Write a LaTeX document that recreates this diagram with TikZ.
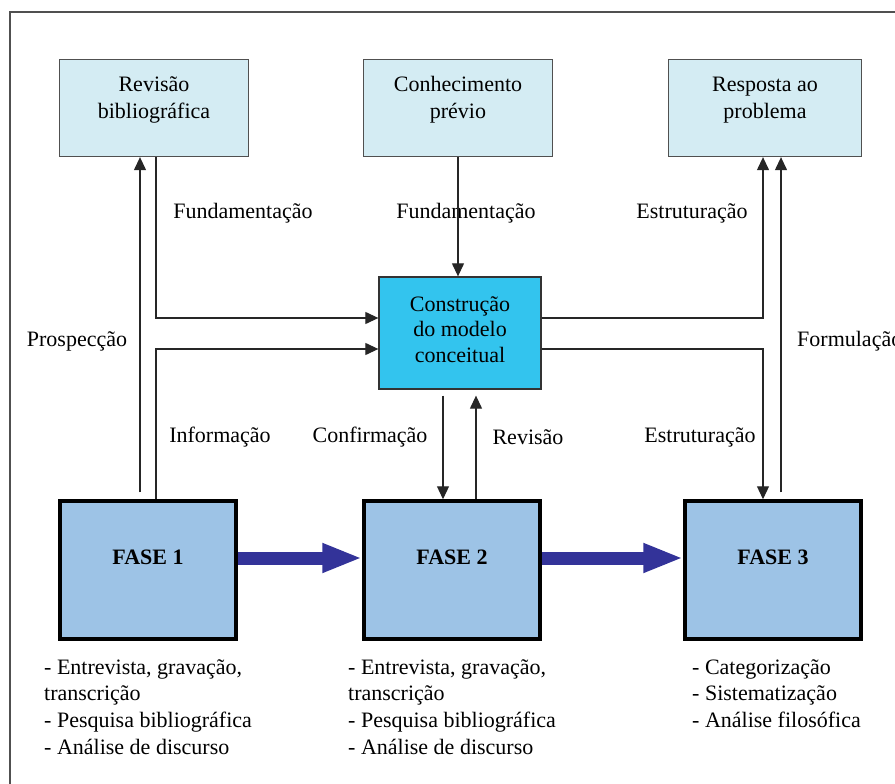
\documentclass[tikz,border=0pt]{standalone}
\usepackage{fontspec}
\setmainfont{Liberation Serif}
\usepackage{xcolor}
\definecolor{paleblue}{RGB}{212,236,243}
\definecolor{cyanbox}{RGB}{51,196,238}
\definecolor{faseblue}{RGB}{157,195,230}
\definecolor{navyarrow}{RGB}{51,51,153}
\definecolor{framegray}{RGB}{80,80,80}
\usepackage{tikz}
\usetikzlibrary{arrows.meta}

\begin{document}
\begin{tikzpicture}[x=1pt, y=-1pt,
  font=\fontsize{22}{27}\selectfont,
  topbox/.style={draw=framegray, line width=1.3pt, fill=paleblue, minimum width=189pt, minimum height=97pt, inner sep=0pt, align=center},
  fasebox/.style={draw=black, line width=3.5pt, fill=faseblue, minimum width=176pt, minimum height=138pt, inner sep=0pt, align=center, font=\fontsize{22}{26}\selectfont\bfseries},
  conn/.style={line width=1.2pt, draw=black!85},
  arr/.style={conn, -{Triangle[length=13pt,width=12pt]}},
  lbl/.style={inner sep=0pt},
  blist/.style={inner sep=0pt, anchor=north west, align=left, font=\fontsize{22}{26.7}\selectfont}]
\useasboundingbox (0,0) rectangle (895,784);

% Frame
\draw[framegray, line width=1.5pt] (10,12) rectangle (910,800);

% Top boxes
\node[topbox] (rev) at (154,108) {Revisão\\bibliográfica\\[-6pt]\mbox{}};
\node[topbox] (con) at (458,108) {Conhecimento\\prévio\\[-6pt]\mbox{}};
\node[topbox, minimum width=193pt] (resp) at (765,108) {Resposta ao\\problema\\[-6pt]\mbox{}};

% Model
\node[draw=black!80, line width=1.3pt, fill=cyanbox, minimum width=162pt, minimum height=112pt, align=center, inner sep=0pt, font=\fontsize{22}{25.5}\selectfont] (cmc) at (460,333) {Construção\\do modelo\\conceitual\\[-18pt]\mbox{}};

% Phases
\node[fasebox] (f1) at (148,570) {FASE 1\\\mbox{}};
\node[fasebox] (f2) at (452,570) {FASE 2\\\mbox{}};
\node[fasebox] (f3) at (773,570) {FASE 3\\\mbox{}};

% Lists
\node[blist] (l1) at (44,659) {- Entrevista, gravação,\\transcrição\\- Pesquisa bibliográfica\\- Análise de discurso};
\node[blist] (l2) at (348,659) {- Entrevista, gravação,\\transcrição\\- Pesquisa bibliográfica\\- Análise de discurso};
\node[blist] (l3) at (692,659) {- Categorização\\- Sistematização\\- Análise filosófica};

% Labels
\node[lbl] (tfund1) at (243,213) {Fundamentação};
\node[lbl] (tfund2) at (466,213) {Fundamentação};
\node[lbl] (testr1) at (692,213) {Estruturação};
\node[lbl] (tprosp) at (77,341) {Prospecção};
\node[lbl, anchor=west] (tform) at (797,341) {Formulação};
\node[lbl] (tinfo) at (220,437) {Informação};
\node[lbl] (tconf) at (370,437) {Confirmação};
\node[lbl] (trevi) at (528,437) {Revisão};
\node[lbl] (testr2) at (700,437) {Estruturação};

% Connections
\draw[arr, shorten <=7pt] ([xshift=-8pt]f1.north) -- ([xshift=-14pt]rev.south);
\draw[arr] ([xshift=2pt]rev.south) |- ([yshift=15pt]cmc.west);
\draw[arr] ([xshift=8pt]f1.north) |- ([yshift=-16pt]cmc.west);
\draw[arr] (con.south) -- (con.south |- cmc.north);
\draw[arr, shorten <=6pt] ([xshift=-17pt]cmc.south) -- ([xshift=-17pt]cmc.south |- f2.north);
\draw[arr, shorten >=6pt] ([xshift=16pt]cmc.south |- f2.north) -- ([xshift=16pt]cmc.south);
\draw[arr] ([yshift=15pt]cmc.east) -| ([xshift=-2pt]resp.south);
\draw[arr] ([yshift=-16pt]cmc.east) -| ([xshift=-10pt]f3.north);
\draw[arr, shorten <=7pt] ([xshift=8pt]f3.north) -- ([xshift=8pt]f3.north |- resp.south);

% Flow
\draw[navyarrow, line width=13pt, -{Triangle[length=40pt,width=27pt]}] ([yshift=12pt]f1.east) -- ([yshift=12pt]f1.east -| f2.west);
\draw[navyarrow, line width=13pt, -{Triangle[length=40pt,width=27pt]}] ([yshift=12pt]f2.east) -- ([yshift=12pt]f2.east -| f3.west);
\end{tikzpicture}
\end{document}
